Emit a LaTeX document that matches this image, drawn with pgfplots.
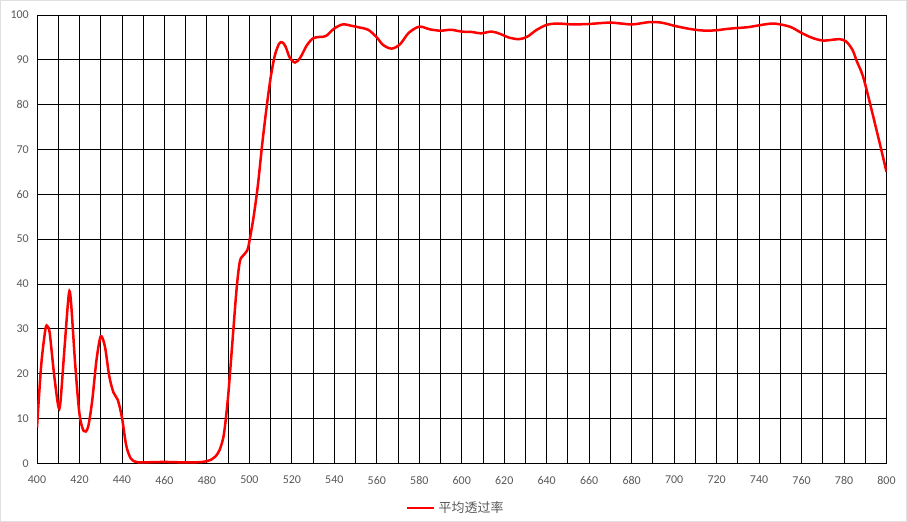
\documentclass[border=0pt]{standalone}
\usepackage{fontspec}
\setmainfont{Carlito}
\newfontfamily\cjk{Noto Sans CJK SC}
\usepackage{pgfplots}
\pgfplotsset{compat=1.18}
\definecolor{ticktxt}{HTML}{595959}

\begin{document}
\begin{tikzpicture}
\path[draw=gray!25, line width=1bp] (0.5bp,0.5bp) rectangle (906.5bp,521.5bp);
\begin{axis}[
  at={(37bp,58.7bp)}, anchor=south west,
  scale only axis, width=849.5bp, height=448.3bp,
  xmin=400, xmax=800, ymin=0, ymax=100,
  xtick distance=10, ytick distance=10,
  xticklabel={\pgfmathparse{int(mod(\tick,20))}\ifnum\pgfmathresult=0 \pgfmathprintnumber{\tick}\fi},
  grid=major,
  major grid style={black, line width=0.9bp},
  axis line style={black, line width=0.9bp},
  major tick length=0pt,
  tick label style={font=\fontsize{12}{14}\selectfont, text=ticktxt},
  xticklabel style={inner sep=0pt, anchor=north, yshift=-12.7bp},
  yticklabel style={inner sep=0pt, anchor=east, xshift=-8bp},
  /pgf/number format/assume math mode=true,
  legend style={at={(0.4344,-0.0997)}, anchor=west, draw=none, fill=none,
    inner sep=0pt, font=\cjk\fontsize{13}{15}\selectfont,
    nodes={inner sep=0pt, text=ticktxt},
    /tikz/every odd column/.append style={column sep=3bp}},
  legend image code/.code={\draw[#1, line width=2.5bp] (0bp,0bp) -- (27bp,0bp);},
]
\addplot[red, line width=2.5bp, smooth] coordinates {
(400,8) (402,22) (404,30) (405,30.5) (406,29) (408,20) (410,12.8) (411,13.5)
(413,26) (415,37.8) (416,36) (418,22) (420,11) (422,7.2) (424,8) (426,14)
(428,23) (430,28.3) (432,26) (434,19.5) (436,15.8) (438,14.2) (440,10.2)
(442,4) (444,1.2) (446,0.4) (448,0.2) (450,0.2) (460,0.3) (470,0.2) (478,0.3)
(482,0.8) (484,1.5) (486,3) (488,6.5) (490,15) (492,27) (494,39) (495.5,45)
(497,46.3) (499,47.5) (500,49.5) (502,55) (504,62) (506,71) (508,79) (510,86)
(512,91) (514,93.6) (515.5,93.9) (517,93) (519,90.5) (521.5,89.4) (524,90.5)
(527,93.2) (530,94.8) (533,95.1) (536,95.3) (540,97) (544,97.9) (548,97.6)
(552,97.2) (556,96.7) (560,95) (563,93.3) (567,92.5) (571,93.5) (575,96)
(580,97.4) (585,96.8) (590,96.5) (595,96.7) (600,96.3) (605,96.2) (609,95.9)
(614,96.3) (618,95.8) (622,95) (627,94.6) (631,95.2) (635,96.6) (640,97.8)
(645,98.1) (652,97.9) (660,98) (670,98.3) (680,97.9) (688,98.4) (694,98.3)
(700,97.6) (705,97.1) (710,96.7) (715,96.5) (720,96.6) (725,96.9) (730,97.1)
(735,97.3) (740,97.7) (746,98.1) (750,97.9) (755,97.3) (760,96) (765,94.9)
(770,94.3) (775,94.5) (778,94.6) (781,94.1) (784,92.2) (786,89.7) (789,86.2)
(793,78.8) (797,71) (800,65)
};
\addlegendentry{平均透过率}
\end{axis}
\end{tikzpicture}
\end{document}
